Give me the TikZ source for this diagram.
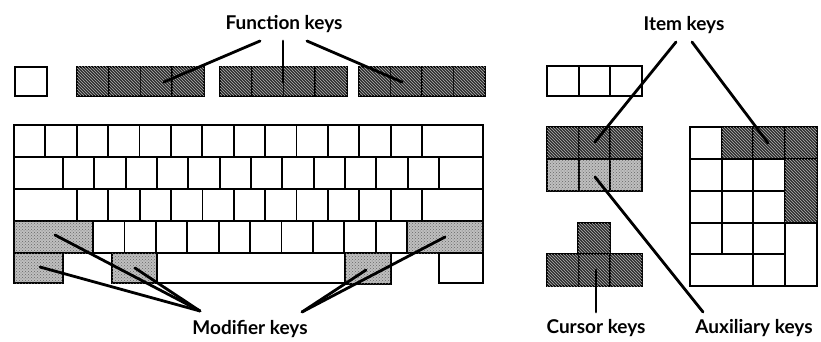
\documentclass[tikz,border=0pt]{standalone}
\usepackage{fontspec}
\setmainfont{Lato}
\usetikzlibrary{patterns}
\begin{document}
\begin{tikzpicture}[x=1pt,y=-1pt,
  key/.style={draw=black,line width=1.8pt,fill=white},
  darkkey/.style={draw=black,line width=1.8pt,fill=black!82,postaction={pattern=north west lines,pattern color=white!70!black}},
  lightkey/.style={draw=black,line width=1.8pt,fill=black!25,postaction={pattern=crosshatch dots,pattern color=black!60}},
  leader/.style={draw=black,line width=2.8pt,line cap=round},
  lbl/.style={font=\fontsize{19}{21}\selectfont\bfseries,inner sep=0pt,anchor=base}]
\useasboundingbox (0,0) rectangle (821,342);
% escape key
\draw[key] (15,67) rectangle (47,96);
% function key groups
\foreach \s/\e in {77/204,220/347,359/485}{
  \pgfmathsetmacro{\kw}{(\e-\s)/4}
  \foreach \i in {0,...,3}{
    \draw[darkkey] ({\s+\i*\kw},67) rectangle ({\s+(\i+1)*\kw},96);
  }
}
% main keyboard row 1
\pgfmathsetmacro{\kwA}{(422-14)/13}
\foreach \i in {0,...,12}{\draw[key] ({14+\i*\kwA},125) rectangle ({14+(\i+1)*\kwA},157);}
\draw[key] (422,125) rectangle (483,157);
% row 2
\draw[key] (14,157) rectangle (63,189);
\pgfmathsetmacro{\kwB}{(439-63)/12}
\foreach \i in {0,...,11}{\draw[key] ({63+\i*\kwB},157) rectangle ({63+(\i+1)*\kwB},189);}
\draw[key] (439,157) rectangle (483,189);
% row 3
\draw[key] (14,189) rectangle (77,221);
\pgfmathsetmacro{\kwC}{(422-77)/11}
\foreach \i in {0,...,10}{\draw[key] ({77+\i*\kwC},189) rectangle ({77+(\i+1)*\kwC},221);}
\draw[key] (422,189) rectangle (483,221);
% row 4
\draw[lightkey] (14,221) rectangle (93,253);
\pgfmathsetmacro{\kwD}{(407-93)/10}
\foreach \i in {0,...,9}{\draw[key] ({93+\i*\kwD},221) rectangle ({93+(\i+1)*\kwD},253);}
\draw[lightkey] (407,221) rectangle (483,253);
% row 5
\draw[lightkey] (14,253) rectangle (63,283);
\draw[lightkey] (112,253) rectangle (157,283);
\draw[key] (157,253) rectangle (345,283);
\draw[lightkey] (345,253) rectangle (391,284);
\draw[key] (439,253) rectangle (483,283);
% item keys top group
\foreach \i in {0,1,2}{\draw[key] ({547+\i*31.67},66) rectangle ({547+(\i+1)*31.67},96);}
% item / auxiliary block
\foreach \i in {0,1,2}{
  \draw[darkkey] ({547+\i*31.67},127) rectangle ({547+(\i+1)*31.67},159);
  \draw[lightkey] ({547+\i*31.67},159) rectangle ({547+(\i+1)*31.67},191);
}
% cursor keys
\draw[darkkey] (578,223) rectangle (610,254);
\foreach \i in {0,1,2}{\draw[darkkey] ({547+\i*31.67},254) rectangle ({547+(\i+1)*31.67},286);}
% keypad
\draw[key] (690,127) rectangle (722,159);
\draw[darkkey] (722,127) rectangle (753,159);
\draw[darkkey] (753,127) rectangle (785,159);
\draw[darkkey] (785,127) rectangle (817,159);
\foreach \y in {159,191,223}{
  \draw[key] (690,\y) rectangle (722,\y+32);
  \draw[key] (722,\y) rectangle (753,\y+32);
  \draw[key] (753,\y) rectangle (785,\y+32);
}
\draw[darkkey] (785,159) rectangle (817,223);
\draw[key] (785,223) rectangle (817,286);
\draw[key] (690,254) rectangle (753,286);
\draw[key] (753,254) rectangle (785,286);
% labels
\node[lbl] (fk) at (284,30) {Function keys};
\node[lbl] (ik) at (684,31) {Item keys};
\node[lbl] (mk) at (250,334) {Modifier keys};
\node[lbl] (ck) at (596,333) {Cursor keys};
\node[lbl] (ak) at (754,333) {Auxiliary keys};
% leader endpoints
\coordinate (fkA) at (260,41); \coordinate (fkB) at (283,41); \coordinate (fkC) at (307,41);
\coordinate (fk1) at (164,82); \coordinate (fk2) at (283,82); \coordinate (fk3) at (402,82);
\coordinate (ikA) at (676,42); \coordinate (ikB) at (692,42);
\coordinate (ik1) at (595,142); \coordinate (ik2) at (768,143);
\coordinate (ckA) at (596,312); \coordinate (ck1) at (596,270);
\coordinate (akA) at (703,312); \coordinate (ak1) at (595,177);
\coordinate (mkA) at (200,311); \coordinate (mkB) at (302,312);
\coordinate (mk1) at (55,235); \coordinate (mk2) at (40,267); \coordinate (mk3) at (135,268);
\coordinate (mk4) at (445,237); \coordinate (mk5) at (366,270);
% leaders
\draw[leader] (fkA) -- (fk1);
\draw[leader] (fkB) -- (fk2);
\draw[leader] (fkC) -- (fk3);
\draw[leader] (ikA) -- (ik1);
\draw[leader] (ikB) -- (ik2);
\draw[leader] (ckA) -- (ck1);
\draw[leader] (akA) -- (ak1);
\draw[leader] (mkA) -- (mk1);
\draw[leader] (mkA) -- (mk2);
\draw[leader] (mkA) -- (mk3);
\draw[leader] (mkB) -- (mk4);
\draw[leader] (mkB) -- (mk5);
\end{tikzpicture}
\end{document}
